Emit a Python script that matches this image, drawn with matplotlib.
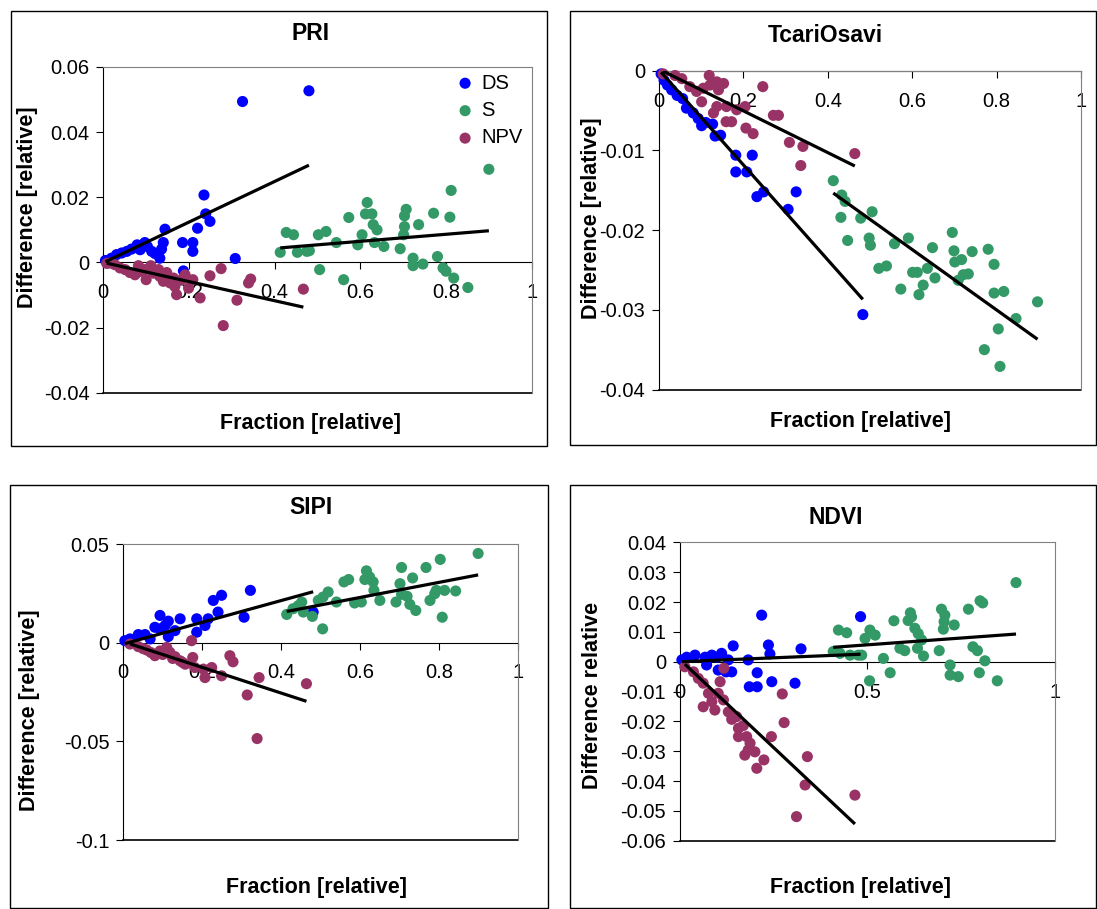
import matplotlib
matplotlib.use("Agg")
import matplotlib.pyplot as plt
from matplotlib.patches import Rectangle
from matplotlib.ticker import FuncFormatter

plt.rcParams['font.family'] = ['Liberation Sans', 'DejaVu Sans']

# ---- data ----
# PRI
pri_ds_x = [0.005, 0.019, 0.031, 0.043, 0.055, 0.066, 0.079, 0.086, 0.097, 0.103, 0.113, 0.121, 0.132, 0.136,
            0.140, 0.144, 0.185, 0.187, 0.209, 0.209, 0.220, 0.235, 0.239, 0.249, 0.308, 0.325, 0.480]
pri_ds_y = [0.0006, 0.0013, 0.0024, 0.0029, 0.0034, 0.0041, 0.0054, 0.0039, 0.0061, 0.0049, 0.0034, 0.0027, 0.0013,
            0.0041, 0.0061, 0.0102, 0.0061, -0.0026, 0.0061, 0.0034, 0.0105, 0.0207, 0.0149, 0.0126, 0.0012, 0.0494, 0.0527]
pri_s_x = [0.413, 0.427, 0.444, 0.453, 0.475, 0.481, 0.502, 0.505, 0.520, 0.544, 0.561, 0.573, 0.594, 0.604, 0.612,
           0.616, 0.627, 0.630, 0.633, 0.639, 0.655, 0.693, 0.701, 0.703, 0.703, 0.707, 0.723, 0.723, 0.736, 0.746,
           0.771, 0.780, 0.793, 0.800, 0.809, 0.812, 0.818, 0.851, 0.900]
pri_s_y = [0.0031, 0.0092, 0.0085, 0.0031, 0.0034, 0.0036, 0.0085, -0.0022, 0.0095, 0.0061, -0.0053, 0.0138, 0.0054,
           0.0085, 0.0149, 0.0184, 0.0149, 0.0116, 0.0061, 0.0100, 0.0049, 0.0042, 0.0085, 0.0110, 0.0143, 0.0163,
           0.0013, -0.0010, 0.0116, -0.0005, 0.0151, 0.0018, -0.0017, -0.0027, 0.0139, 0.0221, -0.0048, -0.0077, 0.0286]
pri_npv_x = [0.008, 0.016, 0.027, 0.039, 0.051, 0.062, 0.074, 0.082, 0.086, 0.097, 0.100, 0.111, 0.117, 0.129, 0.132,
             0.140, 0.148, 0.156, 0.164, 0.167, 0.171, 0.183, 0.191, 0.199, 0.209, 0.226, 0.249, 0.275, 0.280, 0.312,
             0.339, 0.344, 0.467]
pri_npv_y = [-0.0003, -0.0002, -0.0007, -0.0017, -0.0022, -0.0031, -0.0038, -0.0010, -0.0028, -0.0022, -0.0053,
             -0.0010, -0.0033, -0.0022, -0.0043, -0.0058, -0.0031, -0.0063, -0.0048, -0.0074, -0.0099, -0.0053,
             -0.0038, -0.0079, -0.0053, -0.0109, -0.0041, -0.0019, -0.0194, -0.0116, -0.0063, -0.0051, -0.0082]

# TcariOsavi
tco_ds_x = [0.005, 0.012, 0.020, 0.030, 0.043, 0.056, 0.065, 0.081, 0.093, 0.101, 0.111, 0.127, 0.133, 0.146, 0.182,
            0.221, 0.182, 0.208, 0.232, 0.248, 0.325, 0.306, 0.483]
tco_ds_y = [-0.0004, -0.0012, -0.0018, -0.0024, -0.0031, -0.0035, -0.0047, -0.0053, -0.0060, -0.0069, -0.0065,
            -0.0067, -0.0082, -0.0081, -0.0106, -0.0106, -0.0127, -0.0127, -0.0158, -0.0152, -0.0152, -0.0174, -0.0306]
tco_s_x = [0.413, 0.431, 0.447, 0.433, 0.441, 0.478, 0.505, 0.498, 0.501, 0.521, 0.539, 0.558, 0.573, 0.591, 0.601,
           0.612, 0.616, 0.626, 0.636, 0.648, 0.654, 0.695, 0.699, 0.701, 0.717, 0.709, 0.721, 0.733, 0.742, 0.780,
           0.794, 0.794, 0.817, 0.846, 0.804, 0.771, 0.808, 0.897]
tco_s_y = [-0.0138, -0.0184, -0.0213, -0.0156, -0.0164, -0.0185, -0.0177, -0.0210, -0.0219, -0.0248, -0.0245,
           -0.0217, -0.0274, -0.0210, -0.0253, -0.0253, -0.0281, -0.0269, -0.0248, -0.0222, -0.0260, -0.0203,
           -0.0226, -0.0240, -0.0237, -0.0263, -0.0256, -0.0255, -0.0227, -0.0224, -0.0243, -0.0279, -0.0277,
           -0.0311, -0.0324, -0.0350, -0.0371, -0.0290]
tco_npv_x = [0.010, 0.038, 0.054, 0.073, 0.089, 0.101, 0.105, 0.119, 0.121, 0.137, 0.153, 0.141, 0.129, 0.137, 0.160,
             0.159, 0.172, 0.184, 0.204, 0.206, 0.223, 0.246, 0.271, 0.283, 0.309, 0.341, 0.336, 0.464]
tco_npv_y = [-0.0004, -0.0006, -0.0010, -0.0020, -0.0026, -0.0039, -0.0022, -0.0006, -0.0018, -0.0014, -0.0016,
             -0.0024, -0.0053, -0.0045, -0.0045, -0.0064, -0.0064, -0.0049, -0.0045, -0.0072, -0.0079, -0.0020,
             -0.0056, -0.0056, -0.0090, -0.0095, -0.0119, -0.0104]

# SIPI
sipi_ds_x = [0.004, 0.017, 0.038, 0.055, 0.068, 0.080, 0.093, 0.093, 0.106, 0.114, 0.114, 0.131, 0.144, 0.186, 0.186,
             0.207, 0.215, 0.228, 0.240, 0.249, 0.306, 0.322, 0.481]
sipi_ds_y = [0.0010, 0.0019, 0.0041, 0.0041, 0.0019, 0.0078, 0.0138, 0.0070, 0.0087, 0.0109, 0.0031, 0.0061, 0.0121,
             0.0121, 0.0053, 0.0087, 0.0121, 0.0214, 0.0155, 0.0240, 0.0129, 0.0265, 0.0155]
sipi_s_x = [0.414, 0.430, 0.443, 0.452, 0.456, 0.479, 0.494, 0.505, 0.506, 0.519, 0.540, 0.559, 0.571, 0.586, 0.603,
            0.612, 0.616, 0.624, 0.633, 0.635, 0.650, 0.691, 0.701, 0.705, 0.705, 0.719, 0.726, 0.733, 0.741, 0.767,
            0.777, 0.789, 0.793, 0.803, 0.808, 0.814, 0.842, 0.899]
sipi_s_y = [0.0143, 0.0172, 0.0187, 0.0206, 0.0155, 0.0133, 0.0214, 0.0070, 0.0231, 0.0257, 0.0206, 0.0308, 0.0320,
            0.0201, 0.0206, 0.0320, 0.0364, 0.0333, 0.0308, 0.0265, 0.0214, 0.0206, 0.0299, 0.0381, 0.0245, 0.0235,
            0.0194, 0.0328, 0.0163, 0.0381, 0.0214, 0.0248, 0.0265, 0.0422, 0.0129, 0.0265, 0.0262, 0.0452]
sipi_npv_x = [0.017, 0.038, 0.059, 0.080, 0.093, 0.110, 0.118, 0.131, 0.144, 0.157, 0.173, 0.176, 0.181, 0.203, 0.224,
              0.249, 0.207, 0.270, 0.278, 0.344, 0.314, 0.339, 0.464, 0.050, 0.070, 0.100, 0.125, 0.150]
sipi_npv_y = [-0.0007, -0.0020, -0.0037, -0.0066, -0.0042, -0.0024, -0.0049, -0.0071, -0.0092, -0.0109, 0.0010,
              -0.0075, -0.0126, -0.0134, -0.0126, -0.0168, -0.0177, -0.0066, -0.0097, -0.0177, -0.0265, -0.0486,
              -0.0208, -0.0030, -0.0050, -0.0060, -0.0080, -0.0100]

# NDVI
ndvi_ds_x = [0.005, 0.018, 0.040, 0.067, 0.071, 0.085, 0.098, 0.102, 0.111, 0.123, 0.129, 0.138, 0.142, 0.182, 0.206,
             0.185, 0.206, 0.218, 0.236, 0.240, 0.245, 0.307, 0.323, 0.482]
ndvi_ds_y = [0.0006, 0.0015, 0.0022, 0.0015, -0.0011, 0.0022, 0.0015, -0.0028, 0.0028, -0.0034, 0.0006, -0.0034,
             0.0053, 0.0006, -0.0037, -0.0084, -0.0084, 0.0156, 0.0056, 0.0026, -0.0067, -0.0072, 0.0043, 0.0151]
ndvi_s_x = [0.423, 0.445, 0.409, 0.427, 0.454, 0.476, 0.485, 0.494, 0.507, 0.521, 0.506, 0.543, 0.561, 0.571, 0.587,
            0.600, 0.609, 0.615, 0.618, 0.627, 0.636, 0.645, 0.634, 0.650, 0.692, 0.698, 0.707, 0.705, 0.703, 0.732,
            0.721, 0.721, 0.743, 0.770, 0.782, 0.794, 0.801, 0.808, 0.814, 0.799, 0.847, 0.897]
ndvi_s_y = [0.0106, 0.0097, 0.0034, 0.0028, 0.0022, 0.0022, 0.0022, 0.0078, 0.0106, 0.0089, -0.0064, 0.0011, -0.0037,
            0.0137, 0.0045, 0.0037, 0.0138, 0.0164, 0.0150, 0.0112, 0.0094, 0.0073, 0.0045, 0.0019, 0.0037, 0.0176,
            0.0156, 0.0134, 0.0109, 0.0123, -0.0011, -0.0045, -0.0050, 0.0176, 0.0050, 0.0037, 0.0204, 0.0197,
            0.0003, -0.0037, -0.0064, 0.0265]
ndvi_npv_x = [0.013, 0.036, 0.049, 0.062, 0.076, 0.062, 0.085, 0.093, 0.102, 0.107, 0.117, 0.116, 0.129, 0.138, 0.151,
              0.156, 0.169, 0.156, 0.178, 0.187, 0.182, 0.173, 0.200, 0.205, 0.224, 0.244, 0.273, 0.278, 0.340, 0.334,
              0.311, 0.467]
ndvi_npv_y = [-0.0017, -0.0034, -0.0056, -0.0072, -0.0106, -0.0151, -0.0134, -0.0162, -0.0106, -0.0067, -0.0022,
              -0.0128, -0.0168, -0.0193, -0.0184, -0.0223, -0.0214, -0.0251, -0.0251, -0.0273, -0.0296, -0.0313,
              -0.0302, -0.0357, -0.0329, -0.0251, -0.0108, -0.0204, -0.0318, -0.0413, -0.0519, -0.0447]

# linear trendlines (slope, intercept) per series
pri_fit = {"DS": (0.0624, -0.0001), "S": (0.0108, 0.0000), "NPV": (-0.0294, 0.0000)}
tco_fit = {"DS": (-0.0596, 0.0001), "S": (-0.0379, 0.0003), "NPV": (-0.0262, 0.0002)}
sipi_fit = {"DS": (0.0551, -0.0007), "S": (0.0382, 0.0000), "NPV": (-0.0651, 0.0005)}
ndvi_fit = {"DS": (0.0052, 0.0000), "S": (0.0091, 0.0011), "NPV": (-0.1179, 0.0007)}

series_names = ["DS", "S", "NPV"]
colors = {"DS": "#0000FF", "S": "#339966", "NPV": "#993366"}

W, H = 1097, 909
fig = plt.figure(figsize=(W / 100, H / 100), dpi=100)


def px_rect(x0, y0, x1, y1):
    return [x0 / W, 1 - y1 / H, (x1 - x0) / W, (y1 - y0) / H]


# outer chart frames
for x0, y0, x1, y1 in [(11, 11, 547, 446), (570, 11, 1096, 445), (10, 485, 548, 908), (570, 485, 1096, 908)]:
    r = px_rect(x0, y0, x1, y1)
    fig.patches.append(Rectangle((r[0], r[1]), r[2], r[3], transform=fig.transFigure,
                                 fill=False, edgecolor="black", lw=1.0))

fmt = FuncFormatter(lambda v, p: f"{round(v, 4):g}")


def panel(rect, data, fits, ylo, yhi, yticks, xticks, title, tpos, xl_pos, yl_pos, ylabel):
    ax = fig.add_axes(px_rect(*rect))
    for name in series_names:
        xs, ys = data[name]
        ax.scatter(xs, ys, s=64, color=colors[name], edgecolors="none", label=name, zorder=3, clip_on=False)
    for name in series_names:
        xs, ys = data[name]
        m, b = fits[name]
        lx = [min(xs), max(xs)]
        ax.plot(lx, [m * v + b for v in lx], color="black", lw=2.3, zorder=4, solid_capstyle="butt")
    ax.set_xlim(0, 1)
    ax.set_ylim(ylo, yhi)
    ax.set_xticks(xticks)
    ax.set_yticks(yticks)
    ax.xaxis.set_major_formatter(fmt)
    ax.yaxis.set_major_formatter(fmt)
    ax.spines["bottom"].set_position(("data", 0))
    ax.spines["bottom"].set_zorder(2)
    for s in ["top", "right"]:
        ax.spines[s].set_color("#808080")
    ax.axhline(ylo, color="black", lw=1.2, clip_on=False, zorder=2)
    ax.tick_params(axis="x", direction="out", length=5, pad=10, labelsize=14.5)
    ax.tick_params(axis="y", direction="out", length=5, pad=5, labelsize=14.5)
    fig.text(tpos[0] / W, 1 - tpos[1] / H, title, ha="center", va="center", fontsize=16.5, fontweight="bold")
    fig.text(xl_pos[0] / W, 1 - xl_pos[1] / H, "Fraction [relative]", ha="center", va="center",
             fontsize=15.5, fontweight="bold")
    fig.text(yl_pos[0] / W, 1 - yl_pos[1] / H, ylabel, ha="center", va="center", rotation=90,
             fontsize=15.5, fontweight="bold")
    return ax


ax1 = panel((103.3, 67, 531.7, 392.7),
            {"DS": (pri_ds_x, pri_ds_y), "S": (pri_s_x, pri_s_y), "NPV": (pri_npv_x, pri_npv_y)},
            pri_fit, -0.04, 0.06, [-0.04, -0.02, 0, 0.02, 0.04, 0.06], [0, 0.2, 0.4, 0.6, 0.8, 1],
            "PRI", (311, 33), (311, 423), (28, 207), "Difference [relative]")
ax1.legend(loc="upper left", bbox_to_anchor=(0.821, 0.98), frameon=False, fontsize=14.5,
           scatterpoints=1, handlelength=1.0, handletextpad=0.3, labelspacing=0.42, borderaxespad=0, borderpad=0)

panel((659, 70.7, 1081, 389.5),
      {"DS": (tco_ds_x, tco_ds_y), "S": (tco_s_x, tco_s_y), "NPV": (tco_npv_x, tco_npv_y)},
      tco_fit, -0.04, 0, [-0.04, -0.03, -0.02, -0.01, 0], [0, 0.2, 0.4, 0.6, 0.8, 1],
      "TcariOsavi", (825, 36), (861, 421), (591, 218), "Difference [relative]")

panel((123.3, 544, 518, 840),
      {"DS": (sipi_ds_x, sipi_ds_y), "S": (sipi_s_x, sipi_s_y), "NPV": (sipi_npv_x, sipi_npv_y)},
      sipi_fit, -0.1, 0.05, [-0.1, -0.05, 0, 0.05], [0, 0.2, 0.4, 0.6, 0.8, 1],
      "SIPI", (311, 508), (317, 887), (30, 710), "Difference [relative]")

panel((680, 542.3, 1054.6, 840.8),
      {"DS": (ndvi_ds_x, ndvi_ds_y), "S": (ndvi_s_x, ndvi_s_y), "NPV": (ndvi_npv_x, ndvi_npv_y)},
      ndvi_fit, -0.06, 0.04, [-0.06, -0.05, -0.04, -0.03, -0.02, -0.01, 0, 0.01, 0.02, 0.03, 0.04], [0, 0.5, 1],
      "NDVI", (836, 517), (861, 888), (592, 695), "Difference relative")

fig.savefig("out.png", dpi=100)
